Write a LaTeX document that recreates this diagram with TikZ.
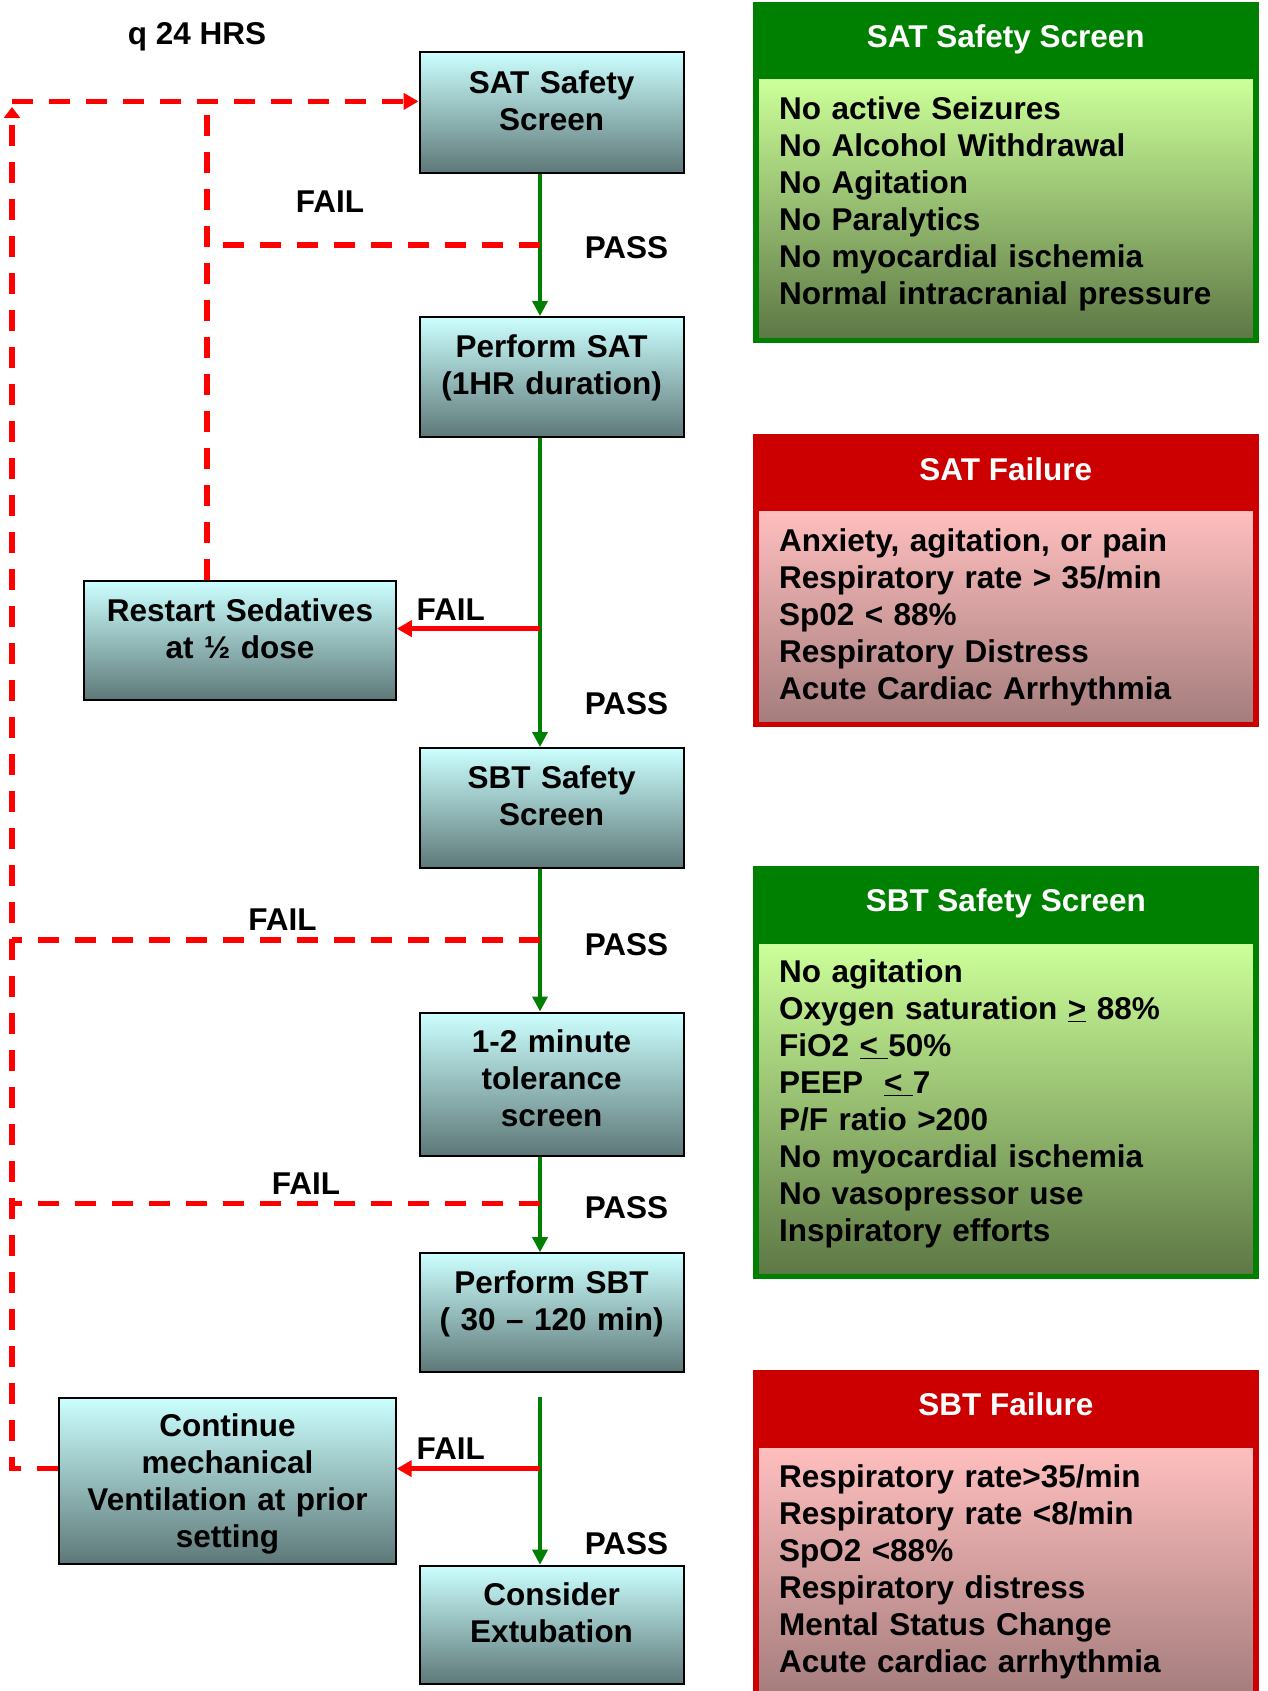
\documentclass[tikz,border=0pt]{standalone}
\usepackage{fontspec}
\setmainfont{Liberation Sans}
\usepackage{tikz}
\usetikzlibrary{arrows.meta}

\definecolor{boxtop}{RGB}{204,255,255}
\definecolor{boxbottom}{RGB}{94,120,120}
\definecolor{safegreen}{RGB}{0,128,0}
\definecolor{safetop}{RGB}{204,255,153}
\definecolor{safebottom}{RGB}{94,120,70}
\definecolor{failred}{RGB}{204,0,0}
\definecolor{failtop}{RGB}{255,190,190}
\definecolor{failbottom}{RGB}{165,125,125}
\definecolor{passgreen}{RGB}{0,128,0}

\begin{document}
\begin{tikzpicture}
	[
		x=1pt, y=-1pt,
		font=\fontsize{31.5}{37}\selectfont\bfseries,
		lift/.style = {text height=0pt, text depth=#1},
		flowbox/.style = {rectangle, align=center, draw=black, line width=2pt, top color=boxtop, bottom color=boxbottom, minimum width=264, text width=264, inner sep=0pt},
		panel/.style = {rectangle, minimum width=506.4, inner sep=0pt},
		paneltitle/.style = {anchor=base, text=white, inner sep=0pt},
		listbox/.style = {rectangle, minimum width=493.7, text width=453.7, inner xsep=20pt, inner ysep=0pt, align=left},
		pass/.style = {draw=passgreen, line width=3.5pt, -{Triangle[length=15pt,width=15pt]}},
		fail/.style = {draw=red, line width=5pt, -{Triangle[length=15pt,width=16pt]}},
		retry/.style = {draw=red, line width=5.5pt, dash pattern=on 21pt off 16pt},
		verdict/.style = {inner sep=0pt},
	]

	\useasboundingbox (0,0) rectangle (1267,1691);

	% flow boxes
	\node[flowbox, minimum height=120.7, lift=37.8] (satscreen) 	at ( 551.6,  112.2 ) {SAT Safety\\Screen};
	\node[flowbox, minimum height=120  , lift=39.2] (perfsat) 	at ( 551.6,  377.0 ) {Perform SAT\\(1HR duration)};
	\node[flowbox, minimum height=120  , lift=38.4] (sbtscreen) 	at ( 551.6,  808.0 ) {SBT Safety\\Screen};
	\node[flowbox, minimum height=143  , lift=62.2] (tolerance) 	at ( 551.6, 1084.0 ) {1-2 minute\\tolerance\\screen};
	\node[flowbox, minimum height=118.6, lift=38.4] (perfsbt) 	at ( 551.6, 1312.5 ) {Perform SBT\\( 30 -- 120 min)};
	\node[flowbox, minimum height=118.6, lift=40.0] (extubate) 	at ( 551.6, 1625.0 ) {Consider\\Extubation};
	\node[flowbox, minimum height=118.6, minimum width=311.6, text width=311.6, lift=37.8] (restart) 	at ( 240.0,  640.5 ) {Restart Sedatives\\at ½ dose};
	\node[flowbox, minimum height=166, minimum width=336.4, text width=336.4, lift=87.4] (contvent) 	at ( 227.5, 1480.5 ) {Continue\\mechanical\\Ventilation at prior\\setting};

	% criteria panels
	\node[panel, fill=safegreen, minimum height=341] (satpanel) 	at ( 1005.8,  172.5 ) {};
	\node[paneltitle] (sattitle) 	at ( 1005.8,   48.0 ) {SAT Safety Screen};
	\node[listbox, top color=safetop, bottom color=safebottom, minimum height=257, lift=178.4] (satlist) 	at ( 1005.9,  208.5 )
		{No active Seizures\\No Alcohol Withdrawal\\No Agitation\\No Paralytics\\No myocardial ischemia\\Normal intracranial pressure};

	\node[panel, fill=failred, minimum height=293] (satfailpanel) 	at ( 1005.8,  580.5 ) {};
	\node[paneltitle] (satfailtitle) 	at ( 1005.8,  480.0 ) {SAT Failure};
	\node[listbox, top color=failtop, bottom color=failbottom, minimum height=210, lift=130.4] (satfaillist) 	at ( 1005.9,  616.7 )
		{Anxiety, agitation, or pain\\Respiratory rate > 35/min\\Sp02 < 88\%\\Respiratory Distress\\Acute Cardiac Arrhythmia};

	\node[panel, fill=safegreen, minimum height=413] (sbtpanel) 	at ( 1005.8, 1072.5 ) {};
	\node[paneltitle] (sbttitle) 	at ( 1005.8,  911.7 ) {SBT Safety Screen};
	\node[listbox, top color=safetop, bottom color=safebottom, minimum height=329, lift=251.4] (sbtlist) 	at ( 1005.9, 1108.5 )
		{No agitation\\Oxygen saturation \underline{>} 88\%\\FiO2 \underline{<\ }50\%\\PEEP\ \ \underline{<\ }7\\P/F ratio >200\\No myocardial ischemia\\No vasopressor use\\Inspiratory efforts};

	\node[panel, fill=failred, minimum height=330] (sbtfailpanel) 	at ( 1005.8, 1535.0 ) {};
	\node[paneltitle] (sbtfailtitle) 	at ( 1005.8, 1415.7 ) {SBT Failure};
	\node[listbox, top color=failtop, bottom color=failbottom, minimum height=247, lift=168.0] (sbtfaillist) 	at ( 1005.9, 1571.5 )
		{Respiratory rate>35/min\\Respiratory rate <8/min\\SpO2 <88\%\\Respiratory distress\\Mental Status Change\\Acute cardiac arrhythmia};

	% labels
	\node[verdict, anchor=base] (period) 	at ( 197.0,   45.0 ) {q 24 HRS};
	\node[verdict] (fail1) 	at ( 330.0,  201.6 ) {FAIL};
	\node[verdict] (pass1) 	at ( 626.5,  248.0 ) {PASS};
	\node[verdict] (fail2) 	at ( 450.7,  610.0 ) {FAIL};
	\node[verdict] (pass2) 	at ( 626.5,  704.0 ) {PASS};
	\node[verdict] (fail3) 	at ( 282.5,  920.0 ) {FAIL};
	\node[verdict] (pass3) 	at ( 626.5,  944.6 ) {PASS};
	\node[verdict] (fail4) 	at ( 306.0, 1184.0 ) {FAIL};
	\node[verdict] (pass4) 	at ( 626.5, 1207.7 ) {PASS};
	\node[verdict] (fail5) 	at ( 450.7, 1449.0 ) {FAIL};
	\node[verdict] (pass5) 	at ( 626.5, 1544.0 ) {PASS};

	% branch points
	\coordinate (spine) 	at ( 540.0,    0.0 );
	\coordinate (loopcol) 	at ( 207.0,    0.0 );
	\coordinate (loopcorner) 	at (  12.0,  101.4 );
	\coordinate (looptip) 	at (  12.0,  107.0 );
	\coordinate (failscreen) 	at ( 540.0,  244.8 );
	\coordinate (failsat) 	at ( 540.0,  628.6 );
	\coordinate (failsbtscreen) 	at ( 540.0,  940.0 );
	\coordinate (failtol) 	at ( 540.0, 1203.4 );
	\coordinate (failsbt) 	at ( 540.0, 1468.6 );

	% pass path
	\foreach \from/\to in {satscreen/perfsat,perfsat/sbtscreen,sbtscreen/tolerance,tolerance/perfsbt}
	\draw[pass] (\from.south -| spine) -- (\to.north -| spine);
	\draw[pass] (contvent.north -| spine) -- (extubate.north -| spine);

	% fail paths
	\draw[fail] (failsat) -- (failsat -| restart.east);
	\draw[fail] (failsbt) -- (failsbt -| contvent.east);

	% retry loops
	\draw[retry, -{Triangle[length=11pt,width=16pt]}] (contvent.west |- failsbt) -| (looptip);
	\draw[retry, -{Triangle[length=15pt,width=16pt]}] (loopcorner) -- (loopcorner -| satscreen.west);
	\draw[retry] (restart.north -| loopcol) -- (loopcol |- loopcorner);
	\draw[retry] (failscreen) -- (failscreen -| loopcol);
	\draw[retry] (failsbtscreen) -- (failsbtscreen -| loopcorner);
	\draw[retry] (failtol) -- (failtol -| loopcorner);

\end{tikzpicture}
\end{document}
